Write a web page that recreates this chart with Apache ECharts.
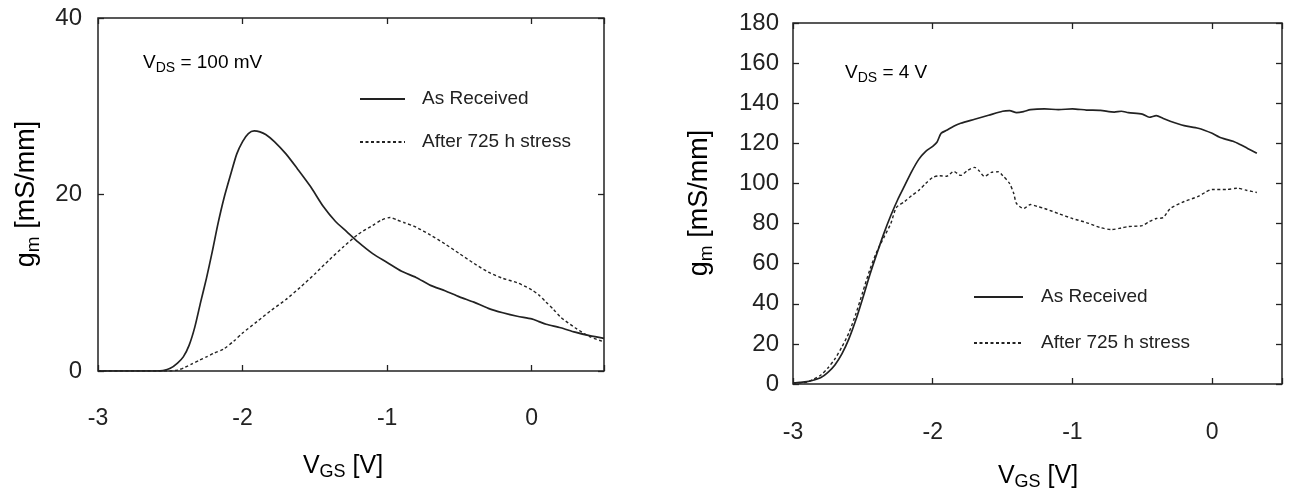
<!DOCTYPE html>
<html>
<head>
<meta charset="utf-8">
<script src="https://cdn.jsdelivr.net/npm/echarts@6/dist/echarts.min.js"></script>
<style>
html,body{margin:0;padding:0;background:#fff;}
#c{width:1293px;height:499px;}
</style>
</head>
<body>
<div id="c"></div>
<script>
// ---- Data ----
const seriesNames = ['As Received', 'After 725 h stress'];
const xTickLabels = ['-3', '-2', '-1', '0'];
const leftYTicks = [0, 20, 40];
const rightYTicks = [0, 20, 40, 60, 80, 100, 120, 140, 160, 180];

// Left panel: V_DS = 100 mV
const leftRecvX = [-3.0,-2.6,-2.55,-2.5,-2.45,-2.41,-2.37,-2.33,-2.29,-2.25,-2.21,-2.17,-2.13,-2.08,-2.04,-2.0,-1.96,-1.92,-1.88,-1.84,-1.78,-1.7,-1.62,-1.53,-1.44,-1.36,-1.28,-1.2,-1.1,-1.0,-0.9,-0.8,-0.7,-0.6,-0.5,-0.4,-0.3,-0.2,-0.1,0.0,0.05,0.1,0.2,0.3,0.4,0.5];
const leftRecvY = [0,0,0.05,0.3,0.9,1.6,2.9,5.0,7.8,10.5,13.5,16.7,19.5,22.4,24.6,26.0,26.9,27.2,27.1,26.8,26.0,24.6,22.9,20.9,18.6,17.0,15.8,14.6,13.3,12.3,11.3,10.6,9.7,9.1,8.4,7.8,7.1,6.6,6.2,5.9,5.6,5.3,4.9,4.4,4.0,3.7];
const leftStressX = [-3.0,-2.5,-2.45,-2.4,-2.35,-2.3,-2.25,-2.2,-2.13,-2.06,-2.0,-1.9,-1.8,-1.7,-1.6,-1.5,-1.4,-1.3,-1.2,-1.1,-1.04,-0.98,-0.93,-0.88,-0.8,-0.7,-0.6,-0.5,-0.4,-0.3,-0.2,-0.1,0.0,0.05,0.1,0.15,0.2,0.3,0.4,0.5];
const leftStressY = [0,0,0.1,0.4,0.8,1.2,1.6,2.0,2.5,3.4,4.3,5.6,6.9,8.1,9.5,11.0,12.6,14.1,15.5,16.5,17.1,17.4,17.1,16.8,16.3,15.4,14.4,13.3,12.2,11.2,10.5,10.0,9.2,8.6,7.8,7.0,6.1,4.9,3.9,3.3];

// Right panel: V_DS = 4 V
const rightRecvX = [-3.0,-2.95,-2.9,-2.85,-2.8,-2.75,-2.7,-2.65,-2.6,-2.55,-2.5,-2.45,-2.4,-2.35,-2.3,-2.25,-2.2,-2.15,-2.1,-2.05,-2.0,-1.97,-1.94,-1.9,-1.85,-1.8,-1.7,-1.6,-1.5,-1.45,-1.4,-1.35,-1.3,-1.2,-1.1,-1.0,-0.9,-0.8,-0.7,-0.65,-0.6,-0.5,-0.45,-0.4,-0.35,-0.3,-0.2,-0.1,0.0,0.05,0.1,0.15,0.2,0.25,0.32];
const rightRecvY = [0.5,0.8,1.2,2.0,3.2,5.8,9.5,15.0,22.5,32,43,54.5,65,75,84,92,99,106,112,116,118.5,120.5,125,126.5,128.5,130,132,134,136,136.3,135.3,135.8,136.8,137.2,136.8,137.2,136.6,136.4,135.6,136,135.3,134.6,133,133.8,132.4,131,128.8,127.5,125,123.2,122,121,119.4,117.6,115];
const rightStressX = [-3.0,-2.95,-2.9,-2.85,-2.8,-2.75,-2.7,-2.65,-2.6,-2.55,-2.5,-2.45,-2.4,-2.35,-2.3,-2.26,-2.2,-2.15,-2.1,-2.05,-2.0,-1.95,-1.9,-1.85,-1.8,-1.75,-1.7,-1.67,-1.63,-1.58,-1.53,-1.5,-1.45,-1.42,-1.4,-1.35,-1.3,-1.25,-1.2,-1.1,-1.0,-0.9,-0.8,-0.72,-0.65,-0.6,-0.5,-0.45,-0.4,-0.35,-0.3,-0.2,-0.1,-0.05,0.0,0.1,0.18,0.25,0.32];
const rightStressY = [0.5,0.6,1.0,2.5,4.5,8,12.5,18.5,25.5,35,46,57,66,73,80,88,91,94,96.5,100,103,103.8,103.6,106,104,106.5,108,106.5,103.5,105.5,105.8,104,100,95,90,87.5,89.5,88.5,87.5,85,82.5,80.5,78,77,77.8,78.5,79,81,82.5,83,87.5,91,93.5,95.5,97,97,97.6,96.5,95.5];

function pairs(xs, ys) { return xs.map((x, i) => [x, ys[i]]); }

// ---- Styles ----
const INK = '#222222';
const FONT = '"Liberation Sans", Arial, Helvetica, sans-serif';
const chart = echarts.init(document.getElementById('c'), null, {renderer: 'canvas'});

function xAxes(gridIndex, labelMargin) {
  const base = {
    type: 'value', gridIndex: gridIndex, min: -3, max: 0.5, interval: 1,
    axisLine: {show: false, onZero: false}, splitLine: {show: false},
    axisTick: {show: true, inside: true, length: 6, lineStyle: {color: INK, width: 1.3}}
  };
  return [
    Object.assign({}, base, {position: 'bottom',
      axisLabel: {show: true, margin: labelMargin, color: INK, fontFamily: FONT, fontSize: 23,
        showMinLabel: true, showMaxLabel: true,
        formatter: v => { const s = String(Math.round(v)); return (Math.abs(v - Math.round(v)) < 1e-6 && xTickLabels.includes(s)) ? s : ''; }}}),
    Object.assign({}, base, {position: 'top', axisLabel: {show: false}})
  ];
}
function yAxes(gridIndex, max, interval, ticks, labelMargin) {
  const base = {
    type: 'value', gridIndex: gridIndex, min: 0, max: max, interval: interval,
    axisLine: {show: false, onZero: false}, splitLine: {show: false},
    axisTick: {show: true, inside: true, length: 6, lineStyle: {color: INK, width: 1.3}}
  };
  return [
    Object.assign({}, base, {position: 'left',
      axisLabel: {show: true, margin: labelMargin, color: INK, fontFamily: FONT, fontSize: 24,
        showMinLabel: true, showMaxLabel: true,
        formatter: v => ticks.includes(v) ? String(v) : ''}}),
    Object.assign({}, base, {position: 'right', axisLabel: {show: false}})
  ];
}

const richTxt = {
  n: {fontFamily: FONT, fontSize: 25, lineHeight: 31, color: INK},
  s: {fontFamily: FONT, fontSize: 18, lineHeight: 18, color: INK, verticalAlign: 'bottom'},
  yn: {fontFamily: FONT, fontSize: 27, lineHeight: 33, color: INK},
  ys: {fontFamily: FONT, fontSize: 19, lineHeight: 19, color: INK, verticalAlign: 'bottom'},
  an: {fontFamily: FONT, fontSize: 19, lineHeight: 24, color: INK},
  as: {fontFamily: FONT, fontSize: 14, lineHeight: 14, color: INK, verticalAlign: 'bottom'}
};

function txt(x, y, text, rot) {
  return {type: 'text', x: x, y: y, rotation: rot || 0, silent: true,
    style: {text: text, rich: richTxt, align: 'center', verticalAlign: 'middle'}};
}
function annot(x, y, text) {
  return {type: 'text', x: x, y: y, silent: true,
    style: {text: text, rich: richTxt, align: 'left', verticalAlign: 'middle'}};
}

const xa = xAxes(0, 36).concat(xAxes(1, 37));
const ya = yAxes(0, 40, 20, leftYTicks, 16).concat(yAxes(1, 180, 20, rightYTicks, 14));

function lineSeries(name, data, xi, yi, dashed) {
  return {
    type: 'line', name: name, xAxisIndex: xi, yAxisIndex: yi, data: data,
    showSymbol: false, symbol: 'none', smooth: 0.25, silent: true,
    lineStyle: {color: INK, width: dashed ? 1.4 : 1.7, type: dashed ? [3, 2.5] : 'solid'},
    itemStyle: {color: INK}
  };
}

const legendCommon = {
  orient: 'vertical', padding: 0, itemHeight: 14, selectedMode: false,
  itemStyle: {opacity: 0, borderWidth: 0},
  data: seriesNames
};

const option = {
  animation: false,
  backgroundColor: '#ffffff',
  grid: [
    {left: 98, top: 18, width: 506, height: 353, show: true, borderColor: INK, borderWidth: 1.5, backgroundColor: 'transparent', containLabel: false, outerBoundsMode: 'none'},
    {left: 793, top: 23, width: 489, height: 361, show: true, borderColor: INK, borderWidth: 1.5, backgroundColor: 'transparent', containLabel: false, outerBoundsMode: 'none'}
  ],
  xAxis: xa,
  yAxis: ya,
  legend: [
    Object.assign({}, legendCommon, {left: 359, top: 88, itemWidth: 45, itemGap: 21,
      textStyle: {fontFamily: FONT, fontSize: 19, lineHeight: 20, color: INK, padding: [2, 0, 0, 12]}}),
    Object.assign({}, legendCommon, {left: 973, top: 286, itemWidth: 49, itemGap: 24,
      textStyle: {fontFamily: FONT, fontSize: 19, lineHeight: 20, color: INK, padding: [2, 0, 0, 13]}})
  ],
  series: [
    lineSeries(seriesNames[0], pairs(leftRecvX, leftRecvY), 0, 0, false),
    lineSeries(seriesNames[1], pairs(leftStressX, leftStressY), 0, 0, true),
    lineSeries(seriesNames[0], pairs(rightRecvX, rightRecvY), 2, 2, false),
    lineSeries(seriesNames[1], pairs(rightStressX, rightStressY), 2, 2, true)
  ],
  graphic: [
    txt(343, 466, '{n|V}{s|GS}{n| [V]}'),
    txt(1038, 476, '{n|V}{s|GS}{n| [V]}'),
    txt(27, 194, '{yn|g}{ys|m}{yn| [mS/mm]}', Math.PI / 2),
    txt(700, 203, '{yn|g}{ys|m}{yn| [mS/mm]}', Math.PI / 2),
    annot(143, 63, '{an|V}{as|DS}{an| = 100 mV}'),
    annot(845, 73, '{an|V}{as|DS}{an| = 4 V}')
  ]
};
chart.setOption(option);
</script>
</body>
</html>
